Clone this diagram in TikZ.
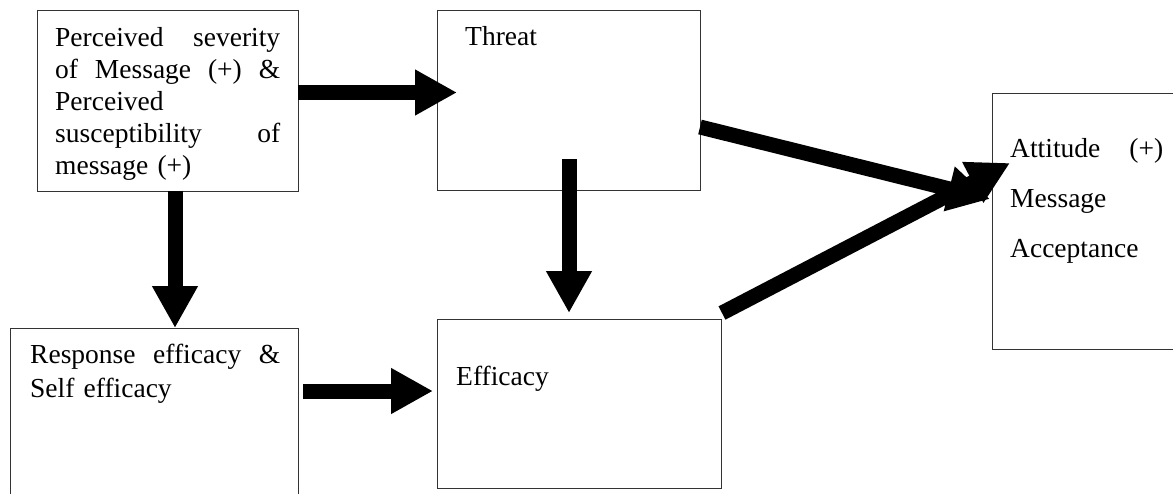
\documentclass[tikz,border=0pt]{standalone}
\usepackage{fontspec}
\setmainfont{Liberation Serif}
\usetikzlibrary{arrows.meta}
\begin{document}
\begin{tikzpicture}[x=1pt,y=-1pt,
  box/.style={draw=black!80, line width=1.1pt, inner sep=0pt, anchor=north west},
  fat/.style={line width=15pt, -{Triangle[length=42pt,width=43pt]}},
  lbl/.style={anchor=north west, inner sep=0pt, align=left, font=\fontsize{27.5}{32}\selectfont}]
\useasboundingbox (0,0) rectangle (1173,493);
% boxes
\node[box, minimum width=261pt, minimum height=181pt] (A) at (37,10) {};
\node[box, minimum width=263pt, minimum height=180pt] (T) at (437,10) {};
\node[box, minimum width=288pt, minimum height=185pt] (R) at (10,328) {};
\node[box, minimum width=284pt, minimum height=169pt] (E) at (437,319) {};
\node[box, minimum width=200pt, minimum height=256pt] (M) at (992,93) {};
% texts
\node[lbl, text width=225pt] (tA) at (55,27.3) {Perceived\hfill severity\\ of\hfill Message\hfill (+)\hfill \&\\ Perceived\\ susceptibility\hfill of\\ message (+)};
\node[lbl] (tT) at (465,26.5) {Threat};
\node[lbl, text width=250pt, font=\fontsize{27.5}{34}\selectfont] (tR) at (30,344.3) {Response\hfill efficacy\hfill \&\\ Self efficacy};
\node[lbl] (tE) at (456,366.3) {Efficacy};
\node[lbl, text width=153pt, font=\fontsize{27.5}{50}\selectfont] (tM) at (1010,138.5) {Attitude\hfill (+)\\ Message\\ Acceptance};
% arrow end points
\coordinate (a1s) at (298,92.5);  \coordinate (a1e) at (457,92.5);
\coordinate (a2s) at (175,191);   \coordinate (a2e) at (175,328);
\coordinate (a3s) at (303,391);   \coordinate (a3e) at (433,391);
\coordinate (a4s) at (569,159);   \coordinate (a4e) at (569,313);
\coordinate (a5s) at (700,127);   \coordinate (a5e) at (990,199);
\coordinate (a6s) at (722,313);   \coordinate (a6e) at (1010,163);
\draw[fat] (a1s) -- (a1e);
\draw[fat] (a2s) -- (a2e);
\draw[fat] (a3s) -- (a3e);
\draw[fat] (a4s) -- (a4e);
\draw[fat] (a5s) -- (a5e);
\draw[fat] (a6s) -- (a6e);
\end{tikzpicture}
\end{document}
